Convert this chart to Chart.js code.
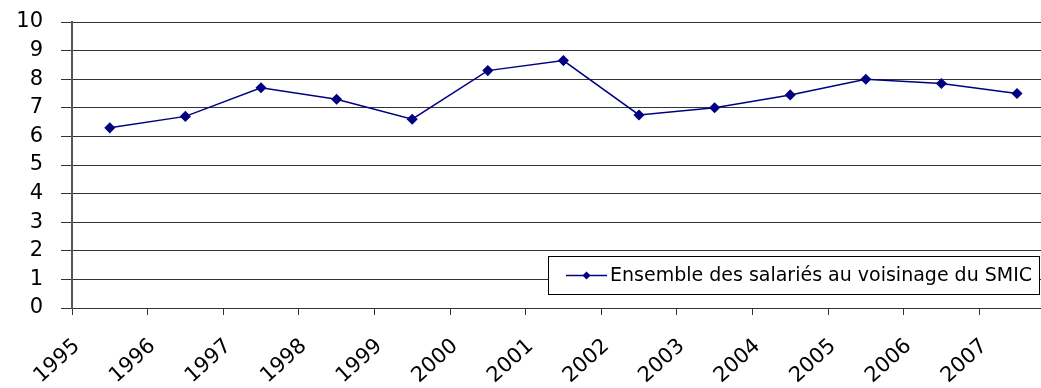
<!DOCTYPE html>
<html>
<head>
<meta charset="utf-8">
<script src="https://cdn.jsdelivr.net/npm/chart.js@4/dist/chart.umd.min.js"></script>
<style>
  html, body { margin: 0; padding: 0; background: #fff; overflow: hidden; }
  #wrap { width: 1041px; height: 388px; position: relative; }
</style>
</head>
<body>
<div id="wrap"><canvas id="chart"></canvas></div>
<script>
const years = ["1995", "1996", "1997", "1998", "1999", "2000", "2001", "2002", "2003", "2004", "2005", "2006", "2007"];
const values = [6.3, 6.7, 7.7, 7.3, 6.6, 8.3, 8.65, 6.75, 7.0, 7.45, 8.0, 7.85, 7.5];
const seriesLabel = "Ensemble des salariés au voisinage du SMIC";
const yMin = 0;
const yMax = 10;

Chart.defaults.font.family = '"DejaVu Sans", sans-serif';
Chart.defaults.color = "#000";

// legend box drawn inside the plot, bottom right
const boxLegend = {
  id: "boxLegend",
  afterDraw(chart) {
    const ctx = chart.ctx;
    const ds = chart.data.datasets[0];
    const x0 = 548.5, y0 = 256.5, w = 491, h = 38;
    ctx.save();
    ctx.fillStyle = "#fff";
    ctx.fillRect(x0, y0, w, h);
    ctx.strokeStyle = "#000";
    ctx.lineWidth = 1;
    ctx.strokeRect(x0, y0, w, h);
    const cy = y0 + h / 2;
    ctx.strokeStyle = ds.borderColor;
    ctx.lineWidth = 1.5;
    ctx.beginPath();
    ctx.moveTo(566, cy);
    ctx.lineTo(607, cy);
    ctx.stroke();
    ctx.fillStyle = ds.borderColor;
    ctx.beginPath();
    ctx.moveTo(586.5, cy - 4);
    ctx.lineTo(590.5, cy);
    ctx.lineTo(586.5, cy + 4);
    ctx.lineTo(582.5, cy);
    ctx.closePath();
    ctx.fill();
    ctx.fillStyle = "#000";
    ctx.font = '19px "DejaVu Sans"';
    ctx.textBaseline = "middle";
    ctx.fillText(ds.label, 610, cy + 1);
    ctx.restore();
  },
};

const ctx = document.querySelector("#chart").getContext("2d");

new Chart(ctx, {
  type: "line",
  data: {
    datasets: [
      {
        label: seriesLabel,
        data: years.map((y, i) => ({ x: Number(y) + 0.5, y: values[i] })),
        borderColor: "#000080",
        backgroundColor: "#000080",
        borderWidth: 1.5,
        pointStyle: "rectRot",
        pointRadius: 4.5,
        pointHoverRadius: 4.5,
        tension: 0,
      },
    ],
  },
  options: {
    responsive: true,
    maintainAspectRatio: false,
    animation: false,
    events: [],
    layout: {
      autoPadding: false,
      padding: { top: 22, right: 0, left: 0, bottom: 0 },
    },
    plugins: {
      legend: { display: false },
      tooltip: { enabled: false },
    },
    scales: {
      x: {
        type: "linear",
        min: Number(years[0]),
        max: Number(years[0]) + (1041 - 72) / 75.6,
        afterBuildTicks: (scale) => {
          scale.ticks = scale.ticks.filter((t) => Number.isInteger(t.value) && t.value <= Number(years[years.length - 1]));
        },
        afterFit: (scale) => {
          scale.height = 80;
          scale.paddingLeft = 0;
          scale.paddingRight = 0;
        },
        border: { display: true, color: "#333", width: 1 },
        grid: {
          drawOnChartArea: false,
          drawTicks: true,
          tickLength: 7,
          color: "#333",
        },
        ticks: {
          stepSize: 1,
          autoSkip: false,
          minRotation: 42,
          maxRotation: 42,
          padding: 19,
          labelOffset: 5,
          font: { size: 21 },
          callback: (v) => String(v),
        },
      },
      y: {
        min: yMin,
        max: yMax,
        afterFit: (scale) => {
          scale.width = 72;
          scale.paddingTop = 0;
          scale.paddingBottom = 0;
        },
        border: { display: true, color: "#555", width: 2 },
        grid: {
          color: "#333",
          lineWidth: 1,
          drawTicks: true,
          tickLength: 11,
        },
        ticks: {
          stepSize: 1,
          autoSkip: false,
          padding: 18,
          font: { size: 21 },
        },
      },
    },
  },
  plugins: [boxLegend],
});
</script>
</body>
</html>
